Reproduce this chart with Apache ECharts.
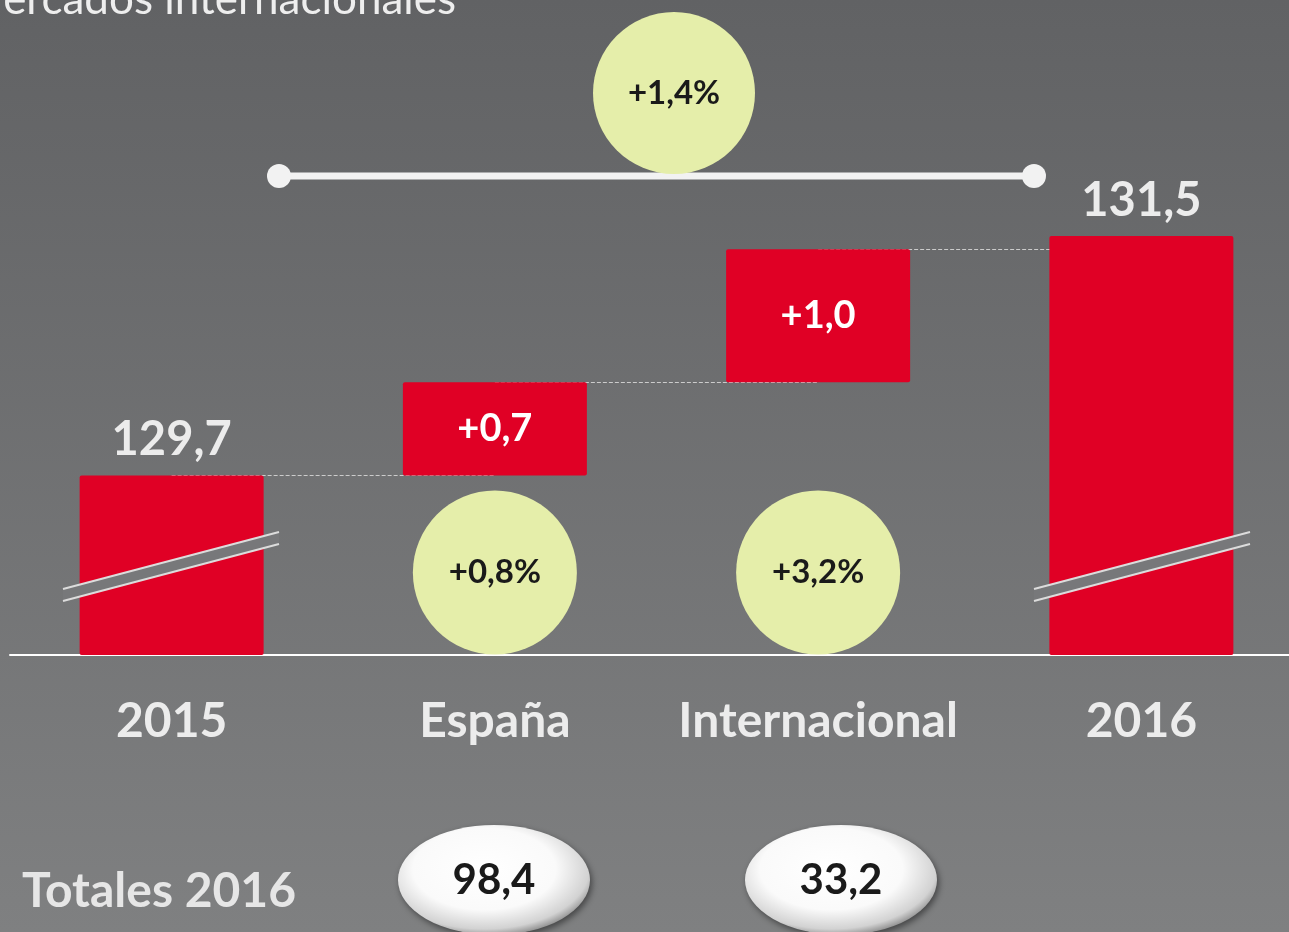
<!DOCTYPE html>
<html>
<head>
<meta charset="utf-8">
<script src="https://cdn.jsdelivr.net/npm/echarts@6/dist/echarts.min.js"></script>
<style>
  html, body { margin: 0; padding: 0; }
  body { width: 1289px; height: 932px; overflow: hidden; background: linear-gradient(#616264, #7f8081); }
  #chart { width: 1289px; height: 932px; }
</style>
</head>
<body>
<div id="chart"></div>
<script>
// datos (millones)
const categorias = ['2015', 'España', 'Internacional', '2016'];
const total2015 = 129.7;
const variaciones = [0.7, 1.0];       // España, Internacional
const total2016 = 131.5;
const crecimientoTotal = 1.4;         // %
const crecimientos = [0.8, 3.2];      // % España, Internacional
const totales2016 = [98.4, 33.2];     // España, Internacional

const fmt = v => v.toFixed(1).replace('.', ',');
const font = 'Lato';
const rojo = '#e00025';
const amarillo = '#e5eeaa';

// base invisible del waterfall
const base = [0, total2015, total2015 + variaciones[0], 0];
const valores = [total2015, variaciones[0], variaciones[1], total2016];

const barras = valores.map((v, i) => {
  const esTotal = i === 0 || i === 3;
  return {
    value: v,
    label: esTotal
      ? { show: true, position: 'top', distance: 12, color: '#ececec', fontSize: 47, fontWeight: 'bold', fontFamily: font, formatter: fmt(v) }
      : { show: true, position: 'inside', color: '#ffffff', fontSize: 38, fontWeight: 'bold', fontFamily: font, formatter: '+' + fmt(v) }
  };
});

// lineas discontinuas entre barras
const conectores = [
  [{ coord: [0, total2015] }, { coord: [1, total2015] }],
  [{ coord: [1, base[2]] }, { coord: [2, base[2]] }],
  [{ coord: [2, base[2] + variaciones[1]] }, { coord: [3, base[2] + variaciones[1]] }]
];

const nivelCirculo = 128.97;

// marca de corte del eje
function corte(dx) {
  return {
    type: 'group', z: 100,
    children: [
      { type: 'polygon', z: 100, shape: { points: [[63 + dx, 589], [279 + dx, 532], [279 + dx, 544], [63 + dx, 601]] }, style: { fill: '#77787a' } },
      { type: 'line', z: 101, shape: { x1: 63 + dx, y1: 589, x2: 279 + dx, y2: 532 }, style: { stroke: '#dcdcdc', lineWidth: 2 } },
      { type: 'line', z: 101, shape: { x1: 63 + dx, y1: 601, x2: 279 + dx, y2: 544 }, style: { stroke: '#dcdcdc', lineWidth: 2 } }
    ]
  };
}

function ovalo(cx, valor) {
  return {
    type: 'group', z: 100,
    children: [
      {
        type: 'circle', z: 100, x: cx, y: 880, scaleY: 55 / 96,
        shape: { cx: 0, cy: 0, r: 96 },
        style: {
          fill: new echarts.graphic.RadialGradient(0.45, 0.4, 0.62, [
            { offset: 0, color: '#ffffff' },
            { offset: 0.6, color: '#fafafa' },
            { offset: 0.88, color: '#d2d2d2' },
            { offset: 1, color: '#8c8c8c' }
          ]),
          shadowBlur: 6, shadowColor: 'rgba(0,0,0,0.45)', shadowOffsetX: 2, shadowOffsetY: 3
        }
      },
      {
        type: 'text', z: 101, x: cx, y: 880,
        style: { text: fmt(valor), fill: '#1a1a1a', fontSize: 42, fontWeight: 'bold', fontFamily: font, align: 'center', verticalAlign: 'middle' }
      }
    ]
  };
}

const chart = echarts.init(document.getElementById('chart'));
chart.setOption({
  animation: false,
  grid: { left: 10, width: 1293, top: 196, bottom: 277, outerBoundsMode: 'none', containLabel: false },
  xAxis: {
    type: 'category',
    data: categorias,
    axisLine: { onZero: false, lineStyle: { color: '#ffffff', width: 2 } },
    axisTick: { show: false },
    axisLabel: { interval: 0, margin: 43, color: '#ececec', fontSize: 48, fontWeight: 'bold', fontFamily: font }
  },
  yAxis: {
    type: 'value', min: 128.35, max: 131.8,
    show: false, splitLine: { show: false }
  },
  series: [
    {
      type: 'bar', stack: 'w', barWidth: 184, z: 2,
      itemStyle: { color: 'transparent' },
      data: base,
      markLine: {
        z: 1, silent: true, symbol: 'none', label: { show: false },
        lineStyle: { color: '#cccccc', type: 'dashed', width: 1 },
        data: conectores
      }
    },
    {
      type: 'bar', stack: 'w', barWidth: 184, z: 3,
      itemStyle: { color: rojo, borderRadius: 2 },
      data: barras
    },
    {
      type: 'scatter', z: 4, symbolSize: 164,
      itemStyle: { color: amarillo, opacity: 1 },
      label: { show: true, position: 'inside', color: '#1a1a1a', fontSize: 33, fontWeight: 'bold', fontFamily: font },
      data: crecimientos.map((c, i) => ({ value: [i + 1, nivelCirculo], label: { formatter: '+' + fmt(c) + '%' } }))
    }
  ],
  graphic: [
    {
      type: 'text', x: 456, y: 22, z: 100,
      style: { text: 'Mercados internacionales', fill: '#eeeeee', fontSize: 44, fontFamily: font, align: 'right', verticalAlign: 'bottom' }
    },
    { type: 'line', z: 100, shape: { x1: 279, y1: 176, x2: 1034, y2: 176 }, style: { stroke: '#f2f2f2', lineWidth: 7 } },
    { type: 'circle', z: 101, shape: { cx: 279, cy: 176, r: 12 }, style: { fill: '#f2f2f2' } },
    { type: 'circle', z: 101, shape: { cx: 1034, cy: 176, r: 12 }, style: { fill: '#f2f2f2' } },
    { type: 'circle', z: 102, shape: { cx: 674, cy: 93, r: 81 }, style: { fill: amarillo } },
    {
      type: 'text', z: 103, x: 674, y: 93,
      style: { text: '+' + fmt(crecimientoTotal) + '%', fill: '#1a1a1a', fontSize: 33, fontWeight: 'bold', fontFamily: font, align: 'center', verticalAlign: 'middle' }
    },
    corte(0),
    corte(971),
    {
      type: 'text', x: 22, y: 892, z: 100,
      style: { text: 'Totales 2016', fill: '#e6e6e6', fontSize: 48, fontWeight: 'bold', fontFamily: font, verticalAlign: 'middle' }
    },
    ovalo(494, totales2016[0]),
    ovalo(841, totales2016[1])
  ]
});
</script>
</body>
</html>
